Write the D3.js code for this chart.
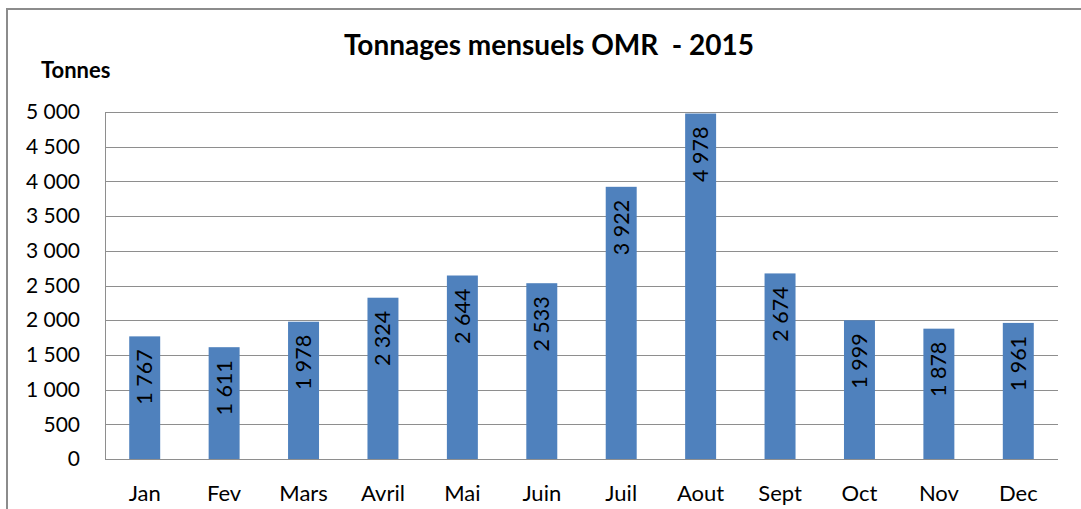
<!DOCTYPE html>
<html><head><meta charset="utf-8">
<script src="https://cdn.jsdelivr.net/npm/d3@7"></script>
<style>html,body{margin:0;padding:0;background:#fff;overflow:hidden}</style>
</head><body>
<svg id="chart" width="1081" height="509"></svg>
<script>
const months = ["Jan","Fev","Mars","Avril","Mai","Juin","Juil","Aout","Sept","Oct","Nov","Dec"];
const tonnages = [1767,1611,1978,2324,2644,2533,3922,4978,2674,1999,1878,1961];
const yTicks = [0,500,1000,1500,2000,2500,3000,3500,4000,4500,5000];
const titleText = "Tonnages mensuels OMR\u00a0\u00a0- 2015";
const yAxisTitle = "Tonnes";

const W = 1081, H = 509;
const m = {left:105, right:1058, top:112, bottom:459};
const font = "Lato, 'Open Sans', sans-serif";
const fmt = v => { const s = String(v); return s.length > 3 ? s.slice(0, s.length-3) + " " + s.slice(-3) : s; };

const svg = d3.select("#chart");
svg.append("rect").attr("x",0).attr("y",0).attr("width",W).attr("height",H).attr("fill","#fff");
// outer border
svg.append("rect").attr("x",7).attr("y",9).attr("width",W+20).attr("height",H+20)
  .attr("fill","none").attr("stroke","#8c8c8c").attr("stroke-width",2);

const x = d3.scaleBand().domain(months).range([m.left, m.right]).paddingInner(0.61).paddingOuter(0.305);
const y = d3.scaleLinear().domain([0,5000]).range([m.bottom, m.top]);

// gridlines
svg.append("g").selectAll("line").data(yTicks).join("line")
  .attr("x1", m.left).attr("x2", m.right)
  .attr("y1", d => Math.round(y(d))+0.5).attr("y2", d => Math.round(y(d))+0.5)
  .attr("stroke","#8e8e8e").attr("stroke-width",1);
// left axis line
svg.append("line").attr("x1",m.left+0.5).attr("x2",m.left+0.5).attr("y1",m.top).attr("y2",m.bottom+1)
  .attr("stroke","#8e8e8e");

// y tick labels
const yAxis = d3.axisLeft(y).tickValues(yTicks).tickFormat(fmt).tickSize(0).tickPadding(25);
const gy = svg.append("g").attr("transform",`translate(${m.left},0)`).call(yAxis);
gy.select(".domain").remove();
gy.selectAll("text").attr("font-family",font).attr("font-size",21).attr("fill","#000");

// bars
svg.append("g").selectAll("rect").data(tonnages).join("rect")
  .attr("x",(d,i)=>x(months[i])).attr("width",x.bandwidth())
  .attr("y",d=>y(d)).attr("height",d=>y(0)-y(d))
  .attr("fill","#4f81bd");

// bar labels
svg.append("g").selectAll("text").data(tonnages).join("text")
  .attr("transform",(d,i)=>`translate(${x(months[i])+x.bandwidth()/2+7.5},${y(d)+13}) rotate(-90)`)
  .attr("text-anchor","end")
  .attr("font-family",font).attr("font-size",21.5).attr("fill","#000")
  .text(d=>fmt(d));

// x axis labels
const xAxis = d3.axisBottom(x).tickSize(0).tickPadding(26);
const gx = svg.append("g").attr("transform",`translate(0,${m.bottom})`).call(xAxis);
gx.select(".domain").remove();
gx.selectAll("text").attr("font-family",font).attr("font-size",22).attr("fill","#000");

// title
svg.append("text").attr("x",549).attr("y",55).attr("text-anchor","middle")
  .attr("font-family",font).attr("font-weight","bold").attr("font-size",28).text(titleText);
svg.append("text").attr("x",41).attr("y",78)
  .attr("font-family",font).attr("font-weight","bold").attr("font-size",22).text(yAxisTitle);
</script>
</body></html>
